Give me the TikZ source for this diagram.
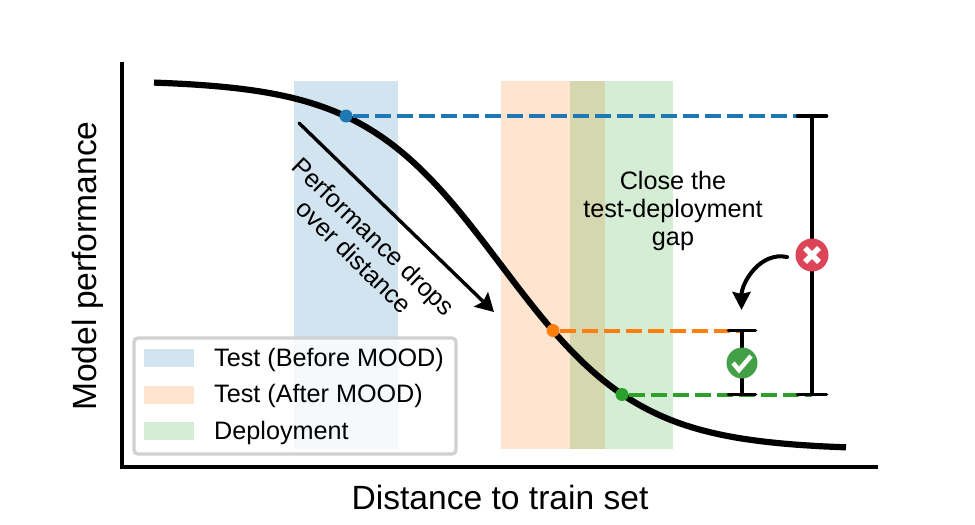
\documentclass[tikz,border=0pt]{standalone}
\usepackage{fontspec}
\setmainfont{Liberation Sans}
\usetikzlibrary{arrows.meta}
\usetikzlibrary{positioning}
\definecolor{tabblue}{HTML}{1F77B4}
\definecolor{taborange}{HTML}{FF7F0E}
\definecolor{tabgreen}{HTML}{2CA02C}
\definecolor{badred}{HTML}{DC4458}
\definecolor{goodgreen}{HTML}{43A047}
\tikzset{
	band/.style={fill opacity=0.2},
	dot/.style={circle, inner sep=0pt, minimum size=13pt},
	gapline/.style={line width=4pt, dash pattern=on 16pt off 6pt},
	errbar/.style={line width=3.6pt, shorten <=-1.8pt, shorten >=-1.8pt, {Bar[width=29pt,round,line width=3.6pt]}-{Bar[width=29pt,round,line width=3.6pt]}},
	nearbar/.style={line width=3.6pt, shorten <=-1.8pt, shorten >=-1.8pt, {Bar[width=27pt,round,line width=3.6pt]}-{Bar[width=27pt,round,line width=3.6pt]}},
	badge/.style={circle, inner sep=0pt, minimum size=33pt},
	swatch/.style={inner sep=0pt, minimum width=50pt, minimum height=18pt},
	legendlabel/.style={anchor=west, inner sep=0pt},
	bigtext/.style={font=\fontsize{33.6}{38}\selectfont, inner sep=0pt},
	smalltext/.style={font=\fontsize{25.2}{28}\selectfont, align=center, inner sep=0pt}
}
\begin{document}
\begin{tikzpicture}[x=1pt, y=-1pt]
	\useasboundingbox (0,0) rectangle (975,525);

	\fill[tabblue, band] (294,81) rectangle (398,449);
	\fill[taborange, band] (501,81) rectangle (605,449);
	\fill[tabgreen, band] (570,81) rectangle (673,449);

	\draw[line width=3.4pt] (122,62) -- (122,467) -- (878,467);
	\node[bigtext, rotate=90] (ylabel) at (88,266) {Model performance};
	\node[bigtext] (xlabel) at (500,497) {Distance to train set};

	\draw[line width=6.2pt, line join=round, domain=154:846, samples=120, smooth]
		plot (\x, {80+370/(1+exp(-(\x-501)/70))});

	\node[dot, fill=tabblue] (ptblue) at (346,116) {};
	\node[dot, fill=taborange] (ptorange) at (553,330.5) {};
	\node[dot, fill=tabgreen] (ptgreen) at (622,394.5) {};

	\coordinate (tophigh) at (812,116);
	\coordinate (toplow) at (812,394.5);
	\coordinate (nearhigh) at (742,330.5);
	\coordinate (nearlow) at (742,394.5);

	\draw[gapline, tabblue] (ptblue) -- (tophigh);
	\draw[gapline, taborange] (ptorange) -- (nearhigh);
	\draw[gapline, tabgreen] (ptgreen) -- (toplow);
	\draw[errbar] (tophigh) -- (toplow);
	\draw[nearbar] (nearhigh) -- (nearlow);

	\node[badge, fill=badred] (bad) at (812,255) {};
	\draw[white, line width=5.5pt] (805,248) -- (819,262);
	\draw[white, line width=5.5pt] (819,248) -- (805,262);
	\node[badge, fill=goodgreen, minimum size=31pt] (good) at (742,363) {};
	\draw[white, line width=4.5pt] (733,363) -- (739,370) -- (751,356);

	\coordinate (dropstart) at (299,123);
	\coordinate (dropend) at (494,312);
	\draw[line width=3.4pt, line cap=round, -{Stealth[length=18pt,width=20pt,inset=3pt]}] (dropstart) -- (dropend);
	\node[smalltext, rotate=-44] (droplabel) at (364,246.5) {Performance drops\\over distance};

	\node[smalltext] (closelabel) at (673,210.5) {Close the\\test-deployment\\gap};
	\coordinate (curvestart) at (787,257);
	\coordinate (curveend) at (741.5,310);
	\draw[line width=4pt, line cap=round, -{Stealth[length=18pt,width=18pt,inset=2pt]}] (curvestart) to[out=168, in=90] (curveend);

	\draw[rounded corners=4pt, draw=black!18, line width=3.4pt, fill=white, fill opacity=0.8] (134,338) rectangle (456,454);
	\node[swatch, fill=tabblue!20] (swatcha) at (169,358) {};
	\node[swatch, fill=taborange!20] (swatchb) at (169,394.5) {};
	\node[swatch, fill=tabgreen!20] (swatchc) at (169,431) {};
	\node[smalltext, legendlabel] (legenda) at (214,360) {Test (Before MOOD)};
	\node[smalltext, legendlabel] (legendb) at (214,396) {Test (After MOOD)};
	\node[smalltext, legendlabel] (legendc) at (214,433) {Deployment};
\end{tikzpicture}
\end{document}
